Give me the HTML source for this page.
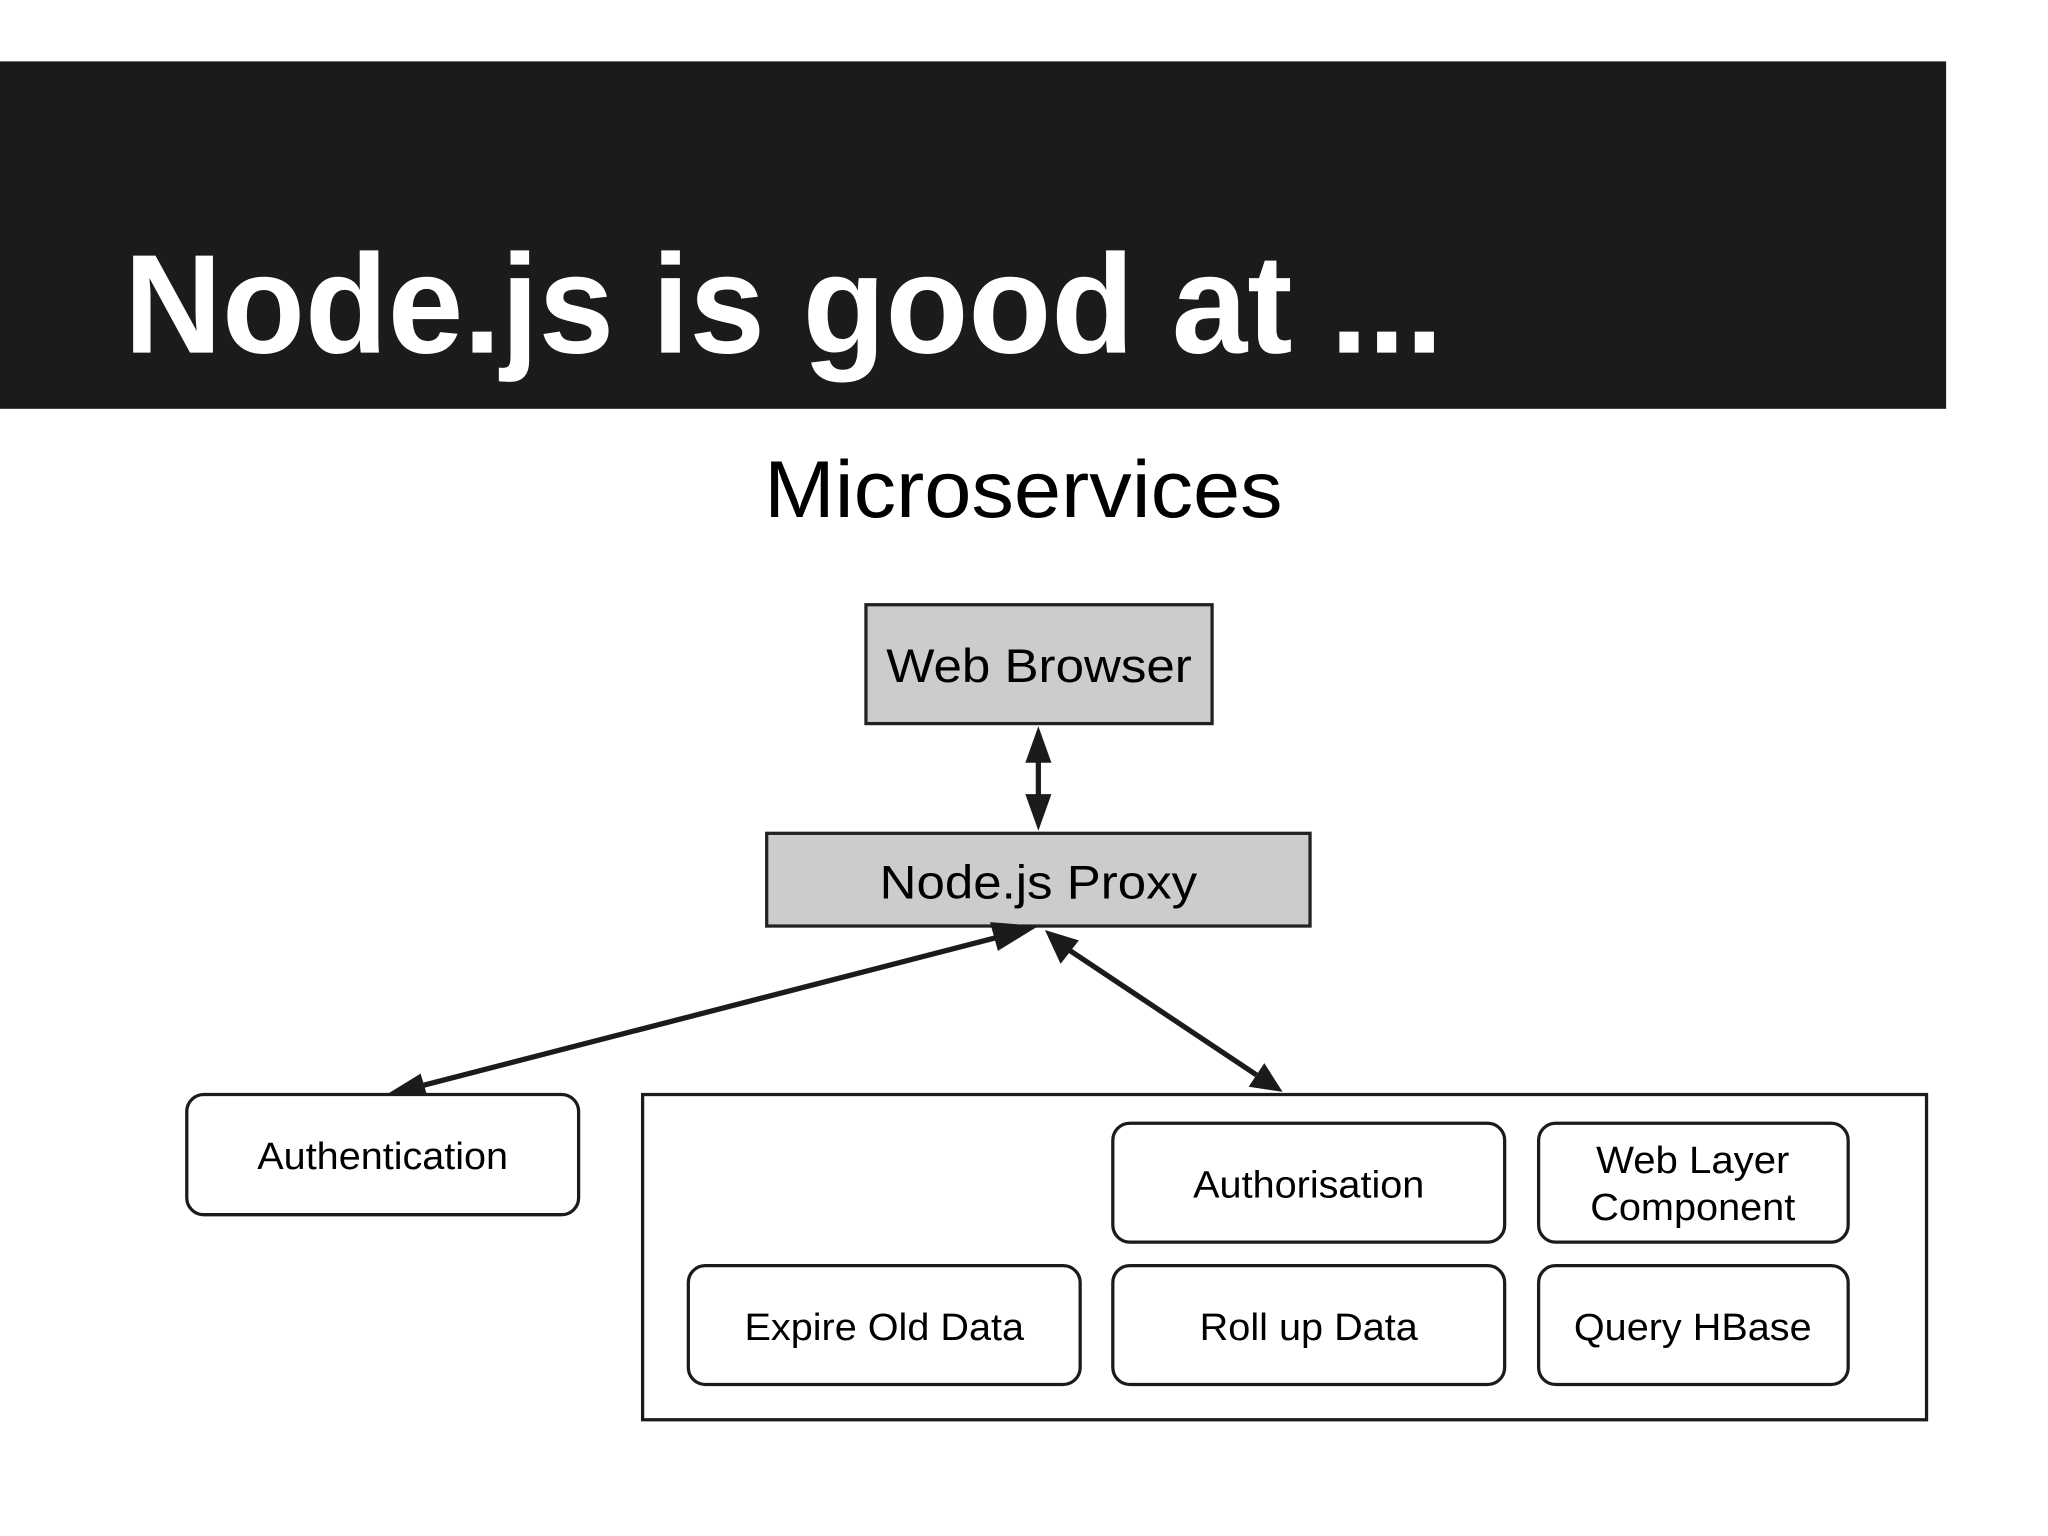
<!DOCTYPE html>
<html><head><meta charset="utf-8"><style>html,body{margin:0;padding:0;background:#fff}svg{display:block}</style></head>
<body>
<svg width="2048" height="1536" viewBox="0 0 1568 1176" xmlns="http://www.w3.org/2000/svg" font-family="Liberation Sans, Arial, sans-serif">
<rect x="0" y="47" width="1490" height="266" fill="#1b1b1b"/>
<text x="95" y="270" font-size="108" font-weight="bold" fill="#fff" textLength="1010" lengthAdjust="spacingAndGlyphs">Node.js is good at ...</text>
<text x="585" y="396" font-size="62" fill="#000" textLength="397" lengthAdjust="spacingAndGlyphs">Microservices</text>

<rect x="663" y="463" width="265" height="91" fill="#cccccc" stroke="#222" stroke-width="2.5"/>
<text x="795.5" y="522" font-size="36" text-anchor="middle" textLength="234" lengthAdjust="spacingAndGlyphs">Web Browser</text>
<rect x="587" y="638" width="416" height="71" fill="#cccccc" stroke="#222" stroke-width="2.5"/>
<text x="795" y="688" font-size="36" text-anchor="middle" textLength="243" lengthAdjust="spacingAndGlyphs">Node.js Proxy</text>

<g stroke="#1b1b1b" stroke-width="4" fill="#1b1b1b">
<line x1="795" y1="580" x2="795" y2="612"/>
<polygon points="795,556 785,584 805,584" stroke="none"/>
<polygon points="795,636 785,608 805,608" stroke="none"/>
<line x1="770" y1="716" x2="320" y2="832"/>
<polygon points="795,709 764,728 758,706" stroke="none"/>
<polygon points="296,838 322,822 328,842" stroke="none"/>
<line x1="815" y1="725" x2="962" y2="823"/>
<polygon points="800,712 812,738 826,720" stroke="none"/>
<polygon points="982,836 956,832 968,814" stroke="none"/>
</g>

<g fill="#fff" stroke="#1b1b1b" stroke-width="2.5">
<rect x="143" y="838" width="300" height="92" rx="13"/>
<rect x="492" y="838" width="983" height="249" rx="0"/>
<rect x="852" y="860" width="300" height="91" rx="13"/>
<rect x="1178" y="860" width="237" height="91" rx="13"/>
<rect x="527" y="969" width="300" height="91" rx="13"/>
<rect x="852" y="969" width="300" height="91" rx="13"/>
<rect x="1178" y="969" width="237" height="91" rx="13"/>
</g>
<g font-size="29" text-anchor="middle" fill="#000">
<text x="293" y="895" textLength="192" lengthAdjust="spacingAndGlyphs">Authentication</text>
<text x="1002" y="917" textLength="177" lengthAdjust="spacingAndGlyphs">Authorisation</text>
<text x="1296" y="898" textLength="148" lengthAdjust="spacingAndGlyphs">Web Layer</text>
<text x="1296" y="934" textLength="157" lengthAdjust="spacingAndGlyphs">Component</text>
<text x="677" y="1026" textLength="214" lengthAdjust="spacingAndGlyphs">Expire Old Data</text>
<text x="1002" y="1026" textLength="167" lengthAdjust="spacingAndGlyphs">Roll up Data</text>
<text x="1296" y="1026" textLength="182" lengthAdjust="spacingAndGlyphs">Query HBase</text>
</g>
</svg>
</body></html>
